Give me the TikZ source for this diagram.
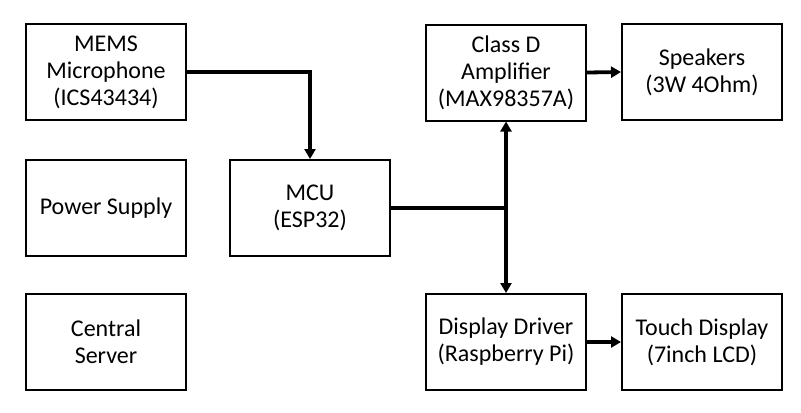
\documentclass[tikz,border=0pt]{standalone}
\usepackage{fontspec}
\setmainfont{Carlito}
\usetikzlibrary{arrows.meta}

\tikzset{
  block/.style={draw, line width=2bp, minimum width=160bp, minimum height=96bp,
    align=center, inner sep=2bp, font=\fontsize{24bp}{27bp}\selectfont},
  link/.style={line width=3.8bp, -{Triangle[length=10bp,width=11bp]}}
}

\begin{document}
\begin{tikzpicture}[x=1bp, y=-1bp]
  \useasboundingbox (0,0) rectangle (801,412);

  \node[block] (mems) at (106,72) {MEMS\\Microphone\\(ICS43434)};
  \node[block] (power) at (106,208) {Power Supply};
  \node[block] (server) at (106,342) {Central\\Server};

  \node[block] (mcu) at (310,208) {MCU\\(ESP32)};

  \node[block] (amp) at (506,72.5) {Class D\\Amplifier\\(MAX98357A)};
  \node[block] (spk) at (702,72) {Speakers\\(3W 4Ohm)};
  \node[block] (drv) at (506,342) {Display Driver\\(Raspberry Pi)};
  \node[block] (touch) at (702,342) {Touch Display\\(7inch LCD)};

  \coordinate (junc) at (amp.south |- mcu.east);

  \draw[link] (mems.east) -| (mcu.north);
  \draw[line width=3.8bp] (mcu.east) -- ([xshift=1.9bp]junc);
  \draw[link] (junc) -- (amp.south);
  \draw[link] (junc) -- (drv.north);
  \draw[link] (amp.east) -- (spk.west);
  \draw[link] (drv.east) -- (touch.west);

\end{tikzpicture}
\end{document}
